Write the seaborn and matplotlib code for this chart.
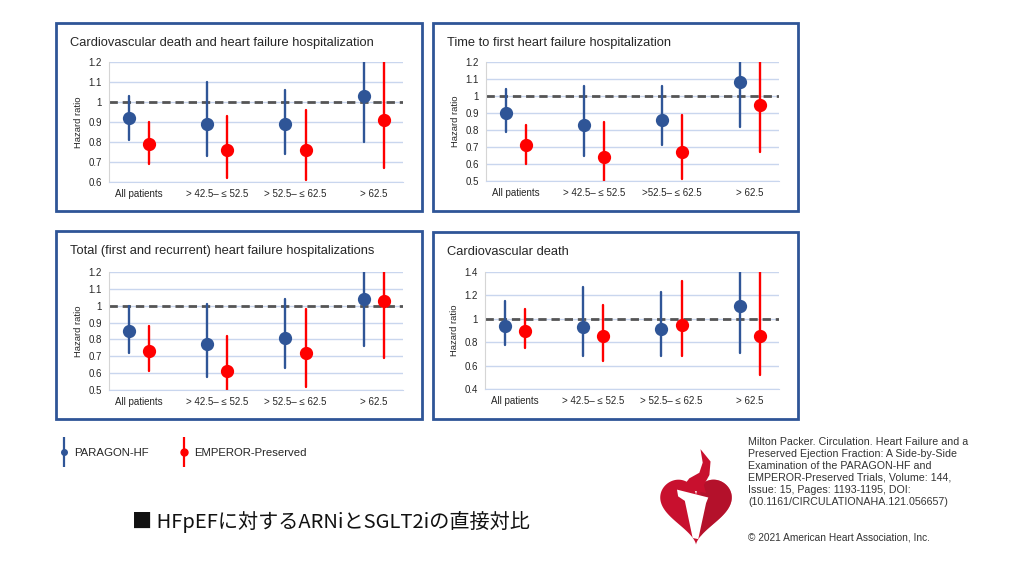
import numpy as np
import pandas as pd
import matplotlib
matplotlib.use("Agg")
import matplotlib.pyplot as plt
import seaborn as sns
from matplotlib.lines import Line2D
from matplotlib.patches import Rectangle, Polygon
from matplotlib.legend_handler import HandlerTuple

# --- datos: (hazard ratio, IC inferior, IC superior) ---
studies = ["PARAGON-HF", "EMPEROR-Preserved"]
groups = ["All patients", "> 42.5– ≤ 52.5", "> 52.5– ≤ 62.5", "> 62.5"]
groups_alt = ["All patients", "> 42.5– ≤ 52.5", ">52.5– ≤ 62.5", "> 62.5"]

cvd_hfh_paragon = [(0.92, 0.81, 1.03), (0.89, 0.73, 1.10), (0.89, 0.74, 1.06), (1.03, 0.80, 1.20)]
cvd_hfh_emperor = [(0.79, 0.69, 0.90), (0.76, 0.62, 0.93), (0.76, 0.61, 0.96), (0.91, 0.67, 1.20)]

first_hfh_paragon = [(0.90, 0.79, 1.04), (0.83, 0.65, 1.06), (0.86, 0.71, 1.06), (1.08, 0.82, 1.20)]
first_hfh_emperor = [(0.71, 0.60, 0.83), (0.64, 0.50, 0.85), (0.67, 0.51, 0.89), (0.95, 0.67, 1.20)]

total_hfh_paragon = [(0.85, 0.72, 1.00), (0.77, 0.58, 1.01), (0.81, 0.63, 1.04), (1.04, 0.76, 1.20)]
total_hfh_emperor = [(0.73, 0.61, 0.88), (0.61, 0.50, 0.82), (0.72, 0.52, 0.98), (1.03, 0.69, 1.20)]

cvd_paragon = [(0.94, 0.78, 1.15), (0.93, 0.68, 1.27), (0.91, 0.68, 1.23), (1.11, 0.71, 1.40)]
cvd_emperor = [(0.90, 0.75, 1.08), (0.85, 0.64, 1.12), (0.95, 0.68, 1.32), (0.85, 0.52, 1.40)]

titles = [
    "Cardiovascular death and heart failure hospitalization",
    "Time to first heart failure hospitalization",
    "Total (first and recurrent) heart failure hospitalizations",
    "Cardiovascular death",
]
yticks_1 = [0.6, 0.7, 0.8, 0.9, 1.0, 1.1, 1.2]
yticks_2 = [0.5, 0.6, 0.7, 0.8, 0.9, 1.0, 1.1, 1.2]
yticks_4 = [0.4, 0.6, 0.8, 1.0, 1.2, 1.4]

citation = ("Milton Packer. Circulation. Heart Failure and a\n"
            "Preserved Ejection Fraction: A Side-by-Side\n"
            "Examination of the PARAGON-HF and\n"
            "EMPEROR-Preserved Trials, Volume: 144,\n"
            "Issue: 15, Pages: 1193-1195, DOI:\n"
            "(10.1161/CIRCULATIONAHA.121.056657)")
copyright_txt = "© 2021 American Heart Association, Inc."
caption = "■ HFpEFに対するARNiとSGLT2iの直接対比"

BLUE = "#2F5597"
RED = "#FF0000"
FRAME = "#2F5597"
W, H = 1024, 576

sns.set_style("white")
plt.rcParams["font.family"] = ["Liberation Sans", "DejaVu Sans"]
plt.rcParams["lines.scale_dashes"] = False


def build_df(cats, paragon, emperor):
    rows = []
    for cat, p, e in zip(cats, paragon, emperor):
        for study, vals in ((studies[0], p), (studies[1], e)):
            for v in vals:
                rows.append({"group": cat, "study": study, "hr": v})
    return pd.DataFrame(rows)


def draw_panel(ax, cats, paragon, emperor, yticks, title, box):
    df = build_df(cats, paragon, emperor)
    sns.pointplot(data=df, x="group", y="hr", hue="study", order=cats,
                  hue_order=studies, palette=[BLUE, RED], estimator="median",
                  errorbar=lambda v: (v.min(), v.max()), dodge=0.26,
                  linestyle="none", markers="o", markersize=7.5,
                  err_kws={"linewidth": 1.7}, legend=False, ax=ax)
    ax.axhline(1.0, color="#555555", lw=2.0, ls=(0, (6, 3.5)), zorder=1.5)
    ax.set_xlim(-0.38, 3.37)
    ax.set_ylim(yticks[0], yticks[-1])
    ax.set_yticks(yticks)
    ax.set_yticklabels([f"{t:g}" for t in yticks])
    ax.yaxis.grid(True, color="#C9D6EE", lw=1.0)
    ax.set_axisbelow(True)
    for s in ["top", "right"]:
        ax.spines[s].set_visible(False)
    ax.spines["left"].set_color("#D5D5D5")
    ax.spines["bottom"].set_color("#C9D6EE")
    ax.tick_params(axis="both", length=0, labelsize=7, colors="#262626")
    ax.tick_params(axis="x", pad=5)
    ax.tick_params(axis="y", pad=5)
    ax.set_xlabel("")
    ax.set_ylabel("Hazard ratio", fontsize=6.8, color="#262626", labelpad=4)
    # recuadro azul y titulo del panel
    x0, y0, x1, y1 = box
    fig.add_artist(Rectangle((x0 / W, 1 - y1 / H), (x1 - x0) / W, (y1 - y0) / H,
                             transform=fig.transFigure, fill=False,
                             ec=FRAME, lw=2.0))
    fig.text((x0 + 14) / W, 1 - (y0 + 20) / H, title, fontsize=9.3,
             color="#262626", va="center", ha="left")


fig = plt.figure(figsize=(10.24, 5.76), dpi=100)
fig.patch.set_facecolor("white")

ax1 = fig.add_axes([109 / W, 1 - 182 / H, 294 / W, 120 / H])
ax2 = fig.add_axes([486 / W, 1 - 181 / H, 293 / W, 119 / H])
ax3 = fig.add_axes([109 / W, 1 - 390 / H, 294 / W, 118 / H])
ax4 = fig.add_axes([485 / W, 1 - 389 / H, 294 / W, 117 / H])

draw_panel(ax1, groups, cvd_hfh_paragon, cvd_hfh_emperor, yticks_1, titles[0], (56, 23, 422, 211))
draw_panel(ax2, groups_alt, first_hfh_paragon, first_hfh_emperor, yticks_2, titles[1], (433, 23, 798, 211))
draw_panel(ax3, groups, total_hfh_paragon, total_hfh_emperor, yticks_2, titles[2], (56, 231, 422, 419))
draw_panel(ax4, groups, cvd_paragon, cvd_emperor, yticks_4, titles[3], (433, 232, 798, 419))

# leyenda comun
handles = []
for c in (BLUE, RED):
    bar = Line2D([], [], marker="|", markersize=22, mew=1.6, color=c, linestyle="none")
    dot = Line2D([], [], marker="o", markersize=4 if c == BLUE else 5, color=c, linestyle="none")
    handles.append((bar, dot))
fig.legend(handles, studies, handler_map={tuple: HandlerTuple(ndivide=1)},
           loc="center left", bbox_to_anchor=(53 / W, 1 - 453 / H), ncol=2,
           frameon=False, fontsize=8.2, handlelength=1.0, handletextpad=0.35,
           columnspacing=2.6, labelcolor="#262626", borderpad=0)

# titulo en japones
fig.text(132 / W, 1 - 522 / H, caption, fontsize=14.5, va="center", ha="left",
         color="#111111", family=["Noto Sans CJK JP", "DejaVu Sans"])

# referencia
fig.text(748 / W, 1 - 437 / H, citation, fontsize=7.7, va="top", ha="left",
         color="#333333", linespacing=1.24)
fig.text(748 / W, 1 - 537 / H, copyright_txt, fontsize=7.3, va="center",
         ha="left", color="#333333")

# logo (corazon con antorcha)
lax = fig.add_axes([658 / W, 1 - 547 / H, 76 / W, 99 / H])
t = np.linspace(0, 2 * np.pi, 300)
hx = 16 * np.sin(t) ** 3
hy = 13 * np.cos(t) - 5 * np.cos(2 * t) - 2 * np.cos(3 * t) - np.cos(4 * t)
lax.fill(hx, hy, color="#C8102E", lw=0)
lax.fill(np.where(hx > 2, hx, 2), hy, color="#A8122A", lw=0, alpha=0.6)
lax.add_patch(Polygon([(-8.5, 7.5), (5.5, 4.0), (4.5, 1.5), (1.0, -14.5),
                       (-1.5, -14.0), (-5.0, 2.5), (-8.0, 4.5)],
                      closed=True, fc="white", ec="none"))
lax.add_patch(Polygon([(-6.5, 8.0), (-3.0, 12.5), (1.5, 15.0), (3.0, 19.5),
                       (2.0, 25.5), (6.5, 20.0), (6.0, 14.0), (3.5, 9.5),
                       (4.5, 6.0), (-1.0, 7.0)],
                      closed=True, fc="#C8102E", ec="none"))
lax.set_xlim(-17, 17)
lax.set_ylim(-18, 26)
lax.axis("off")

fig.savefig("out.png", dpi=100, facecolor="white")
